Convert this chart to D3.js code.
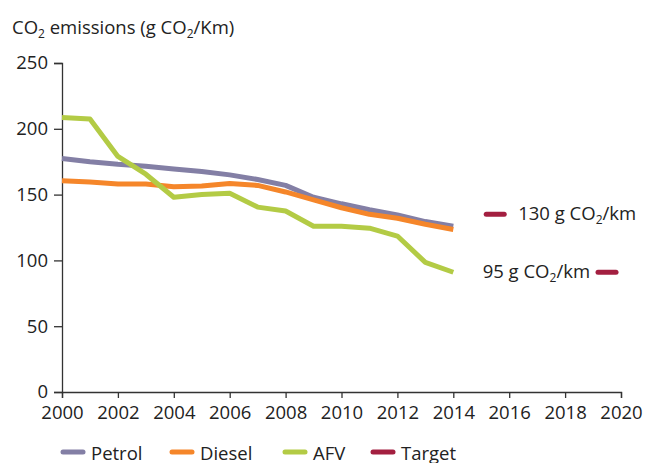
<!DOCTYPE html>
<html>
<head>
<meta charset="utf-8">
<script src="https://cdn.jsdelivr.net/npm/d3@7"></script>
<style>
  body { margin: 0; background: #fff; }
  svg { font-family: "Open Sans", "Noto Sans", sans-serif; }
</style>
</head>
<body>
<div id="vis"></div>
<script>
var years = [2000, 2001, 2002, 2003, 2004, 2005, 2006, 2007, 2008, 2009, 2010, 2011, 2012, 2013, 2014];
var petrol = [177.5, 175, 173, 171.5, 169.5, 167.5, 165, 161.5, 157, 148, 143, 138.5, 134.5, 129.5, 126];
var diesel = [160.5, 159.5, 158, 158, 156, 156.5, 158.5, 157, 152, 146, 140, 135, 132, 127.5, 123.5];
var afv = [208.5, 207.5, 179, 165.5, 148, 150, 151, 140.5, 137.5, 126, 126, 124.5, 118.5, 98.5, 91];
var targets = [
    {year: 2015.5, value: 135, label: '130', side: 'right'},
    {year: 2019.5, value: 91, label: '95', side: 'left'}
];
var seriesNames = ['Petrol', 'Diesel', 'AFV', 'Target'];
var xTicks = [2000, 2002, 2004, 2006, 2008, 2010, 2012, 2014, 2016, 2018, 2020];
var yTicks = [0, 50, 100, 150, 200, 250];

var width = 646;
var height = 463;
var margin = {top: 63, right: 25, bottom: 71, left: 62};
var fontSize = '18.5px';
var subSize = '12px';

var colors = {
    Petrol: '#837fa5',
    Diesel: '#f5862a',
    AFV: '#b3cb45',
    Target: '#a31f40'
};

var svg = d3.select('#vis')
    .append('svg')
    .attr('width', width)
    .attr('height', height);

var x = d3.scaleLinear()
    .domain([2000, 2020])
    .range([margin.left, width - margin.right]);

var y = d3.scaleLinear()
    .domain([0, 250])
    .range([height - margin.bottom, margin.top]);

// title with subscripts
var title = svg.append('text')
    .attr('x', 12)
    .attr('y', 34)
    .style('font-size', fontSize)
    .style('fill', '#222');
title.append('tspan').text('CO');
title.append('tspan').attr('dy', 4).style('font-size', subSize).text('2');
title.append('tspan').attr('dy', -4).text(' emissions (g CO');
title.append('tspan').attr('dy', 4).style('font-size', subSize).text('2');
title.append('tspan').attr('dy', -4).text('/Km)');

// axes
var yAxis = svg.append('g')
    .attr('transform', 'translate(' + margin.left + ',0)')
    .call(d3.axisLeft(y).tickValues(yTicks).tickSize(8).tickPadding(6));

var xAxis = svg.append('g')
    .attr('transform', 'translate(0,' + (height - margin.bottom) + ')')
    .call(d3.axisBottom(x).tickValues(xTicks).tickFormat(d3.format('d')).tickSize(6).tickPadding(8));

[xAxis, yAxis].forEach(function (ax) {
    ax.selectAll('path, line').attr('stroke', '#333').attr('stroke-width', 1.3);
    ax.selectAll('text')
        .style('font-family', '"Open Sans", sans-serif')
        .style('font-size', fontSize)
        .style('fill', '#222');
});

// lines
var line = d3.line()
    .x(function (d) { return x(d.year); })
    .y(function (d) { return y(d.value); });

var series = [
    {name: 'Petrol', values: petrol},
    {name: 'Diesel', values: diesel},
    {name: 'AFV', values: afv}
];

series.forEach(function (s) {
    var pts = years.map(function (yr, i) {
        return {year: yr, value: s.values[i]};
    });
    svg.append('path')
        .datum(pts)
        .attr('fill', 'none')
        .attr('stroke', colors[s.name])
        .attr('stroke-width', 5)
        .attr('stroke-linejoin', 'round')
        .attr('d', line);
});

// targets
svg.selectAll('.target')
    .data(targets)
    .enter().append('line')
    .attr('class', 'target')
    .attr('x1', function (d) { return x(d.year) - 9; })
    .attr('x2', function (d) { return x(d.year) + 9; })
    .attr('y1', function (d) { return y(d.value); })
    .attr('y2', function (d) { return y(d.value); })
    .attr('stroke', colors.Target)
    .attr('stroke-width', 5)
    .attr('stroke-linecap', 'round');

targets.forEach(function (d) {
    var t = svg.append('text')
        .attr('y', y(d.value) + 6)
        .style('font-size', fontSize)
        .style('fill', '#222');
    if (d.side === 'right') {
        t.attr('x', x(d.year) + 23).attr('text-anchor', 'start');
    } else {
        t.attr('x', x(d.year) - 17).attr('text-anchor', 'end');
    }
    t.append('tspan').text(d.label + ' g CO');
    t.append('tspan').attr('dy', 4).style('font-size', subSize).text('2');
    t.append('tspan').attr('dy', -4).text('/km');
});

// legend
var legendX = [61, 170, 283, 371];
var legend = svg.selectAll('.legend')
    .data(seriesNames)
    .enter().append('g')
    .attr('class', 'legend')
    .attr('transform', function (d, i) {
        return 'translate(' + legendX[i] + ',452)';
    });

legend.append('line')
    .attr('x1', 2)
    .attr('x2', 22)
    .attr('stroke', function (d) { return colors[d]; })
    .attr('stroke-width', 5)
    .attr('stroke-linecap', 'round');

legend.append('text')
    .attr('x', 30)
    .attr('y', 8)
    .style('font-size', fontSize)
    .style('fill', '#222')
    .text(function (d) { return d; });
</script>
</body>
</html>
